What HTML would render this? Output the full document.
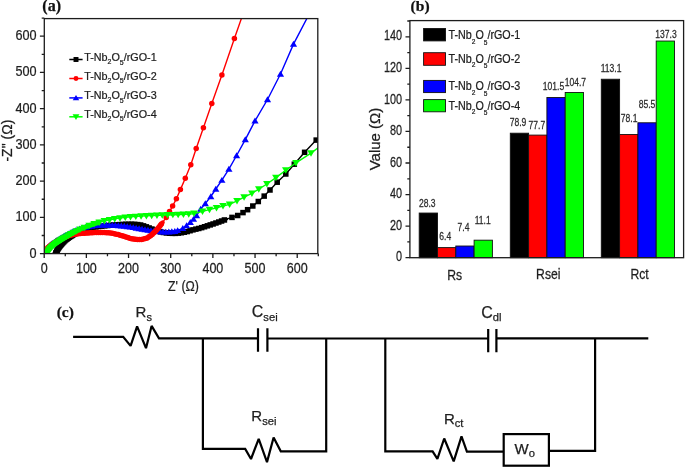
<!DOCTYPE html><html><head><meta charset="utf-8"><style>html,body{margin:0;padding:0;background:#fff;width:685px;height:468px;overflow:hidden;}svg{display:block;will-change:transform;}</style></head><body><svg width="685" height="468" viewBox="0 0 685 468">
<rect x="0" y="0" width="685" height="468" fill="#fff"/>
<g transform="translate(42.30,11.40) scale(1.000,1)"><text x="0" y="0" font-family="Liberation Serif" font-size="16" font-weight="bold" text-anchor="start" fill="#111" stroke="#111" stroke-width="0.25" >(a)</text></g>
<path d="M39.90,253.60H44.30M44.20,253.60V258.00M41.70,235.48H44.30M65.28,253.60V256.20M39.90,217.37H44.30M86.37,253.60V258.00M41.70,199.25H44.30M107.46,253.60V256.20M39.90,181.14H44.30M128.54,253.60V258.00M41.70,163.02H44.30M149.62,253.60V256.20M39.90,144.91H44.30M170.71,253.60V258.00M41.70,126.79H44.30M191.80,253.60V256.20M39.90,108.68H44.30M212.88,253.60V258.00M41.70,90.56H44.30M233.97,253.60V256.20M39.90,72.45H44.30M255.05,253.60V258.00M41.70,54.33H44.30M276.13,253.60V256.20M39.90,36.22H44.30M297.22,253.60V258.00M41.70,18.10H44.30M318.31,253.60V256.20" stroke="#1c1c1c" stroke-width="1.3" fill="none"/>
<g transform="translate(36.60,257.60) scale(0.880,1)"><text x="0" y="0" font-family="Liberation Sans" font-size="14.4" font-weight="normal" text-anchor="end" fill="#1e1e1e" stroke="#1e1e1e" stroke-width="0.25" >0</text></g>
<g transform="translate(44.20,272.50) scale(0.870,1)"><text x="0" y="0" font-family="Liberation Sans" font-size="14.4" font-weight="normal" text-anchor="middle" fill="#1e1e1e" stroke="#1e1e1e" stroke-width="0.25" >0</text></g>
<g transform="translate(36.60,221.37) scale(0.880,1)"><text x="0" y="0" font-family="Liberation Sans" font-size="14.4" font-weight="normal" text-anchor="end" fill="#1e1e1e" stroke="#1e1e1e" stroke-width="0.25" >100</text></g>
<g transform="translate(86.37,272.50) scale(0.870,1)"><text x="0" y="0" font-family="Liberation Sans" font-size="14.4" font-weight="normal" text-anchor="middle" fill="#1e1e1e" stroke="#1e1e1e" stroke-width="0.25" >100</text></g>
<g transform="translate(36.60,185.14) scale(0.880,1)"><text x="0" y="0" font-family="Liberation Sans" font-size="14.4" font-weight="normal" text-anchor="end" fill="#1e1e1e" stroke="#1e1e1e" stroke-width="0.25" >200</text></g>
<g transform="translate(128.54,272.50) scale(0.870,1)"><text x="0" y="0" font-family="Liberation Sans" font-size="14.4" font-weight="normal" text-anchor="middle" fill="#1e1e1e" stroke="#1e1e1e" stroke-width="0.25" >200</text></g>
<g transform="translate(36.60,148.91) scale(0.880,1)"><text x="0" y="0" font-family="Liberation Sans" font-size="14.4" font-weight="normal" text-anchor="end" fill="#1e1e1e" stroke="#1e1e1e" stroke-width="0.25" >300</text></g>
<g transform="translate(170.71,272.50) scale(0.870,1)"><text x="0" y="0" font-family="Liberation Sans" font-size="14.4" font-weight="normal" text-anchor="middle" fill="#1e1e1e" stroke="#1e1e1e" stroke-width="0.25" >300</text></g>
<g transform="translate(36.60,112.68) scale(0.880,1)"><text x="0" y="0" font-family="Liberation Sans" font-size="14.4" font-weight="normal" text-anchor="end" fill="#1e1e1e" stroke="#1e1e1e" stroke-width="0.25" >400</text></g>
<g transform="translate(212.88,272.50) scale(0.870,1)"><text x="0" y="0" font-family="Liberation Sans" font-size="14.4" font-weight="normal" text-anchor="middle" fill="#1e1e1e" stroke="#1e1e1e" stroke-width="0.25" >400</text></g>
<g transform="translate(36.60,76.45) scale(0.880,1)"><text x="0" y="0" font-family="Liberation Sans" font-size="14.4" font-weight="normal" text-anchor="end" fill="#1e1e1e" stroke="#1e1e1e" stroke-width="0.25" >500</text></g>
<g transform="translate(255.05,272.50) scale(0.870,1)"><text x="0" y="0" font-family="Liberation Sans" font-size="14.4" font-weight="normal" text-anchor="middle" fill="#1e1e1e" stroke="#1e1e1e" stroke-width="0.25" >500</text></g>
<g transform="translate(36.60,40.22) scale(0.880,1)"><text x="0" y="0" font-family="Liberation Sans" font-size="14.4" font-weight="normal" text-anchor="end" fill="#1e1e1e" stroke="#1e1e1e" stroke-width="0.25" >600</text></g>
<g transform="translate(297.22,272.50) scale(0.870,1)"><text x="0" y="0" font-family="Liberation Sans" font-size="14.4" font-weight="normal" text-anchor="middle" fill="#1e1e1e" stroke="#1e1e1e" stroke-width="0.25" >600</text></g>
<g transform="translate(183.50,291.00) scale(0.900,1)"><text x="0" y="0" font-family="Liberation Sans" font-size="13.8" font-weight="normal" text-anchor="middle" fill="#1e1e1e" stroke="#1e1e1e" stroke-width="0.25" >Z' (&#937;)</text></g>
<g transform="translate(11.8,140.6) rotate(-90)"><text x="0" y="0" font-family="Liberation Sans" font-size="14" text-anchor="middle" fill="#1e1e1e" stroke="#1e1e1e" stroke-width="0.25">-Z" (&#937;)</text></g>
<clipPath id="ca"><rect x="44.3" y="18.6" width="273.5" height="235.0"/></clipPath>
<g clip-path="url(#ca)">
<path d="M56.00,252.80L57.60,249.50L59.70,246.50L62.30,243.30L65.50,240.00L69.50,237.20L74.00,234.20L80.00,231.20L87.00,228.80L95.00,227.00L103.00,226.00L110.00,225.30L118.00,224.70L125.00,224.30L133.00,224.20L140.00,224.80L145.00,226.30L150.00,228.30L155.00,230.20L160.00,231.80L165.00,232.80L170.00,233.30L175.00,233.40L180.00,233.00L186.50,231.80L193.80,229.60L200.00,228.20L205.00,226.60L213.00,224.00L220.00,221.60L226.50,219.20L232.00,217.40L237.70,215.50L243.00,212.60L247.60,209.70L252.80,206.00L258.30,201.50L264.20,196.10L270.00,190.00L277.20,182.20L285.80,174.00L294.30,164.20L304.60,152.30L316.20,140.10L322.00,134.00" stroke="#000000" stroke-width="1.4" fill="none" stroke-linejoin="round"/>
<path d="M56.00,252.80L57.60,249.50L59.70,246.50L62.30,243.30L65.50,240.00L69.50,237.20L74.00,234.20L80.00,231.20L87.00,228.80L95.00,227.00L103.00,226.00L110.00,225.30L118.00,224.70L125.00,224.30L133.00,224.20L140.00,224.80L145.00,226.30L150.00,228.30L155.00,230.20L160.00,231.80L165.00,232.80L170.00,233.30L175.00,233.40L180.00,233.00L186.50,231.80L193.80,229.60L200.00,228.20L205.00,226.60L213.00,224.00L220.00,221.60L226.50,219.20" stroke="#000000" stroke-width="3.0" fill="none" stroke-linejoin="round" stroke-linecap="round"/>
<path d="M55.00,254.50L57.60,249.50L59.70,246.50L62.30,243.30L65.50,240.00L69.50,237.20L74.00,234.20L80.00,231.20L87.00,228.80" stroke="#000000" stroke-width="6.0" fill="none" stroke-linejoin="round" stroke-linecap="butt"/>
<rect x="53.25" y="250.05" width="5.50" height="5.50" fill="#000000"/>
<rect x="53.90" y="248.70" width="5.50" height="5.50" fill="#000000"/>
<rect x="54.56" y="247.35" width="5.50" height="5.50" fill="#000000"/>
<rect x="55.33" y="246.07" width="5.50" height="5.50" fill="#000000"/>
<rect x="56.19" y="244.84" width="5.50" height="5.50" fill="#000000"/>
<rect x="57.06" y="243.62" width="5.50" height="5.50" fill="#000000"/>
<rect x="58.00" y="242.45" width="5.50" height="5.50" fill="#000000"/>
<rect x="58.95" y="241.29" width="5.50" height="5.50" fill="#000000"/>
<rect x="59.93" y="240.16" width="5.50" height="5.50" fill="#000000"/>
<rect x="60.98" y="239.08" width="5.50" height="5.50" fill="#000000"/>
<rect x="62.02" y="238.00" width="5.50" height="5.50" fill="#000000"/>
<rect x="63.12" y="236.99" width="5.50" height="5.50" fill="#000000"/>
<rect x="64.35" y="236.13" width="5.50" height="5.50" fill="#000000"/>
<rect x="65.58" y="235.27" width="5.50" height="5.50" fill="#000000"/>
<rect x="66.81" y="234.41" width="5.50" height="5.50" fill="#000000"/>
<rect x="68.05" y="233.58" width="5.50" height="5.50" fill="#000000"/>
<rect x="69.30" y="232.75" width="5.50" height="5.50" fill="#000000"/>
<rect x="70.55" y="231.92" width="5.50" height="5.50" fill="#000000"/>
<rect x="71.84" y="231.15" width="5.50" height="5.50" fill="#000000"/>
<rect x="73.18" y="230.48" width="5.50" height="5.50" fill="#000000"/>
<rect x="74.52" y="229.81" width="5.50" height="5.50" fill="#000000"/>
<rect x="75.87" y="229.14" width="5.50" height="5.50" fill="#000000"/>
<rect x="77.21" y="228.47" width="5.50" height="5.50" fill="#000000"/>
<rect x="78.62" y="227.98" width="5.50" height="5.50" fill="#000000"/>
<rect x="80.04" y="227.49" width="5.50" height="5.50" fill="#000000"/>
<rect x="81.46" y="227.01" width="5.50" height="5.50" fill="#000000"/>
<rect x="82.88" y="226.52" width="5.50" height="5.50" fill="#000000"/>
<rect x="84.30" y="226.04" width="5.50" height="5.50" fill="#000000"/>
<rect x="87.23" y="225.38" width="5.50" height="5.50" fill="#000000"/>
<rect x="90.15" y="224.72" width="5.50" height="5.50" fill="#000000"/>
<rect x="93.10" y="224.14" width="5.50" height="5.50" fill="#000000"/>
<rect x="96.07" y="223.77" width="5.50" height="5.50" fill="#000000"/>
<rect x="99.05" y="223.40" width="5.50" height="5.50" fill="#000000"/>
<rect x="102.03" y="223.07" width="5.50" height="5.50" fill="#000000"/>
<rect x="105.02" y="222.77" width="5.50" height="5.50" fill="#000000"/>
<rect x="108.00" y="222.49" width="5.50" height="5.50" fill="#000000"/>
<rect x="110.99" y="222.27" width="5.50" height="5.50" fill="#000000"/>
<rect x="113.99" y="222.04" width="5.50" height="5.50" fill="#000000"/>
<rect x="116.98" y="221.85" width="5.50" height="5.50" fill="#000000"/>
<rect x="119.97" y="221.68" width="5.50" height="5.50" fill="#000000"/>
<rect x="122.97" y="221.54" width="5.50" height="5.50" fill="#000000"/>
<rect x="125.97" y="221.50" width="5.50" height="5.50" fill="#000000"/>
<rect x="128.97" y="221.47" width="5.50" height="5.50" fill="#000000"/>
<rect x="131.96" y="221.60" width="5.50" height="5.50" fill="#000000"/>
<rect x="134.95" y="221.85" width="5.50" height="5.50" fill="#000000"/>
<rect x="137.91" y="222.25" width="5.50" height="5.50" fill="#000000"/>
<rect x="140.79" y="223.11" width="5.50" height="5.50" fill="#000000"/>
<rect x="143.62" y="224.10" width="5.50" height="5.50" fill="#000000"/>
<rect x="146.40" y="225.21" width="5.50" height="5.50" fill="#000000"/>
<rect x="149.20" y="226.29" width="5.50" height="5.50" fill="#000000"/>
<rect x="152.01" y="227.36" width="5.50" height="5.50" fill="#000000"/>
<rect x="154.86" y="228.29" width="5.50" height="5.50" fill="#000000"/>
<rect x="157.73" y="229.15" width="5.50" height="5.50" fill="#000000"/>
<rect x="160.67" y="229.73" width="5.50" height="5.50" fill="#000000"/>
<rect x="163.63" y="230.19" width="5.50" height="5.50" fill="#000000"/>
<rect x="166.62" y="230.49" width="5.50" height="5.50" fill="#000000"/>
<rect x="169.62" y="230.60" width="5.50" height="5.50" fill="#000000"/>
<rect x="172.61" y="230.62" width="5.50" height="5.50" fill="#000000"/>
<rect x="175.60" y="230.38" width="5.50" height="5.50" fill="#000000"/>
<rect x="178.58" y="230.01" width="5.50" height="5.50" fill="#000000"/>
<rect x="181.53" y="229.46" width="5.50" height="5.50" fill="#000000"/>
<rect x="184.46" y="228.84" width="5.50" height="5.50" fill="#000000"/>
<rect x="187.33" y="227.97" width="5.50" height="5.50" fill="#000000"/>
<rect x="190.20" y="227.11" width="5.50" height="5.50" fill="#000000"/>
<rect x="193.11" y="226.38" width="5.50" height="5.50" fill="#000000"/>
<rect x="196.04" y="225.72" width="5.50" height="5.50" fill="#000000"/>
<rect x="198.93" y="224.91" width="5.50" height="5.50" fill="#000000"/>
<rect x="201.78" y="224.00" width="5.50" height="5.50" fill="#000000"/>
<rect x="204.64" y="223.07" width="5.50" height="5.50" fill="#000000"/>
<rect x="207.49" y="222.15" width="5.50" height="5.50" fill="#000000"/>
<rect x="210.34" y="221.22" width="5.50" height="5.50" fill="#000000"/>
<rect x="213.18" y="220.25" width="5.50" height="5.50" fill="#000000"/>
<rect x="216.02" y="219.27" width="5.50" height="5.50" fill="#000000"/>
<rect x="218.84" y="218.26" width="5.50" height="5.50" fill="#000000"/>
<rect x="221.66" y="217.22" width="5.50" height="5.50" fill="#000000"/>
<rect x="229.25" y="214.65" width="5.50" height="5.50" fill="#000000"/>
<rect x="234.95" y="212.75" width="5.50" height="5.50" fill="#000000"/>
<rect x="240.25" y="209.85" width="5.50" height="5.50" fill="#000000"/>
<rect x="244.85" y="206.95" width="5.50" height="5.50" fill="#000000"/>
<rect x="250.05" y="203.25" width="5.50" height="5.50" fill="#000000"/>
<rect x="255.55" y="198.75" width="5.50" height="5.50" fill="#000000"/>
<rect x="261.45" y="193.35" width="5.50" height="5.50" fill="#000000"/>
<rect x="267.25" y="187.25" width="5.50" height="5.50" fill="#000000"/>
<rect x="274.45" y="179.45" width="5.50" height="5.50" fill="#000000"/>
<rect x="283.05" y="171.25" width="5.50" height="5.50" fill="#000000"/>
<rect x="291.55" y="161.45" width="5.50" height="5.50" fill="#000000"/>
<rect x="301.85" y="149.55" width="5.50" height="5.50" fill="#000000"/>
<rect x="313.45" y="137.35" width="5.50" height="5.50" fill="#000000"/>
<path d="M44.60,252.80L46.00,249.60L48.50,246.60L52.00,243.60L56.00,240.90L61.00,237.90L67.00,234.70L73.00,231.70L80.00,228.80L87.00,226.80L94.00,225.70L100.00,225.10L108.00,225.00L117.00,225.40L125.00,226.20L132.00,227.20L140.00,228.80L150.00,230.40L158.00,231.60L165.00,232.00L170.00,231.80L175.50,231.20L179.00,230.00L182.80,228.30L186.60,225.60L190.30,222.30L193.50,219.20L196.60,215.60L200.70,209.00L205.30,203.60L210.80,196.50L215.80,189.00L221.90,180.20L228.90,169.10L236.60,155.50L245.30,139.60L255.00,120.90L267.50,99.50L280.50,74.00L293.50,44.10L310.00,12.50" stroke="#0000ff" stroke-width="1.4" fill="none" stroke-linejoin="round"/>
<path d="M44.60,252.80L46.00,249.60L48.50,246.60L52.00,243.60L56.00,240.90L61.00,237.90L67.00,234.70L73.00,231.70L80.00,228.80L87.00,226.80L94.00,225.70L100.00,225.10L108.00,225.00L117.00,225.40L125.00,226.20L132.00,227.20L140.00,228.80L150.00,230.40L158.00,231.60L165.00,232.00L170.00,231.80L175.50,231.20L179.00,230.00" stroke="#0000ff" stroke-width="2.0" fill="none" stroke-linejoin="round" stroke-linecap="round"/>
<path d="M44.60,249.50L48.20,255.44L41.00,255.44Z" fill="#0000ff"/>
<path d="M45.20,248.13L48.80,254.07L41.60,254.07Z" fill="#0000ff"/>
<path d="M45.80,246.75L49.40,252.69L42.20,252.69Z" fill="#0000ff"/>
<path d="M46.64,245.53L50.24,251.47L43.04,251.47Z" fill="#0000ff"/>
<path d="M47.61,244.37L51.21,250.31L44.01,250.31Z" fill="#0000ff"/>
<path d="M48.58,243.23L52.18,249.17L44.98,249.17Z" fill="#0000ff"/>
<path d="M49.72,242.26L53.32,248.20L46.12,248.20Z" fill="#0000ff"/>
<path d="M50.86,241.28L54.46,247.22L47.26,247.22Z" fill="#0000ff"/>
<path d="M51.99,240.31L55.59,246.25L48.39,246.25Z" fill="#0000ff"/>
<path d="M53.24,239.47L56.84,245.41L49.64,245.41Z" fill="#0000ff"/>
<path d="M54.48,238.63L58.08,244.57L50.88,244.57Z" fill="#0000ff"/>
<path d="M55.72,237.79L59.32,243.73L52.12,243.73Z" fill="#0000ff"/>
<path d="M57.00,237.00L60.60,242.94L53.40,242.94Z" fill="#0000ff"/>
<path d="M58.29,236.23L61.89,242.17L54.69,242.17Z" fill="#0000ff"/>
<path d="M59.57,235.46L63.17,241.40L55.97,241.40Z" fill="#0000ff"/>
<path d="M60.86,234.68L64.46,240.62L57.26,240.62Z" fill="#0000ff"/>
<path d="M62.18,233.97L65.78,239.91L58.58,239.91Z" fill="#0000ff"/>
<path d="M63.50,233.27L67.10,239.21L59.90,239.21Z" fill="#0000ff"/>
<path d="M64.83,232.56L68.43,238.50L61.23,238.50Z" fill="#0000ff"/>
<path d="M66.15,231.85L69.75,237.79L62.55,237.79Z" fill="#0000ff"/>
<path d="M67.48,231.16L71.08,237.10L63.88,237.10Z" fill="#0000ff"/>
<path d="M68.82,230.49L72.42,236.43L65.22,236.43Z" fill="#0000ff"/>
<path d="M70.16,229.82L73.76,235.76L66.56,235.76Z" fill="#0000ff"/>
<path d="M71.50,229.15L75.10,235.09L67.90,235.09Z" fill="#0000ff"/>
<path d="M72.85,228.48L76.45,234.42L69.25,234.42Z" fill="#0000ff"/>
<path d="M74.23,227.89L77.83,233.83L70.63,233.83Z" fill="#0000ff"/>
<path d="M75.61,227.32L79.21,233.26L72.01,233.26Z" fill="#0000ff"/>
<path d="M77.00,226.74L80.60,232.68L73.40,232.68Z" fill="#0000ff"/>
<path d="M79.77,225.60L83.37,231.54L76.17,231.54Z" fill="#0000ff"/>
<path d="M82.64,224.74L86.24,230.68L79.04,230.68Z" fill="#0000ff"/>
<path d="M85.53,223.92L89.13,229.86L81.93,229.86Z" fill="#0000ff"/>
<path d="M88.45,223.27L92.05,229.21L84.85,229.21Z" fill="#0000ff"/>
<path d="M91.42,222.81L95.02,228.75L87.82,228.75Z" fill="#0000ff"/>
<path d="M94.38,222.36L97.98,228.30L90.78,228.30Z" fill="#0000ff"/>
<path d="M97.37,222.06L100.97,228.00L93.77,228.00Z" fill="#0000ff"/>
<path d="M100.35,221.80L103.95,227.74L96.75,227.74Z" fill="#0000ff"/>
<path d="M103.35,221.76L106.95,227.70L99.75,227.70Z" fill="#0000ff"/>
<path d="M106.35,221.72L109.95,227.66L102.75,227.66Z" fill="#0000ff"/>
<path d="M109.35,221.76L112.95,227.70L105.75,227.70Z" fill="#0000ff"/>
<path d="M112.35,221.89L115.95,227.83L108.75,227.83Z" fill="#0000ff"/>
<path d="M115.35,222.03L118.95,227.97L111.75,227.97Z" fill="#0000ff"/>
<path d="M118.34,222.23L121.94,228.17L114.74,228.17Z" fill="#0000ff"/>
<path d="M121.32,222.53L124.92,228.47L117.72,228.47Z" fill="#0000ff"/>
<path d="M124.31,222.83L127.91,228.77L120.71,228.77Z" fill="#0000ff"/>
<path d="M127.28,223.23L130.88,229.17L123.68,229.17Z" fill="#0000ff"/>
<path d="M130.25,223.65L133.85,229.59L126.65,229.59Z" fill="#0000ff"/>
<path d="M133.21,224.14L136.81,230.08L129.61,230.08Z" fill="#0000ff"/>
<path d="M136.15,224.73L139.75,230.67L132.55,230.67Z" fill="#0000ff"/>
<path d="M139.09,225.32L142.69,231.26L135.49,231.26Z" fill="#0000ff"/>
<path d="M142.05,225.83L145.65,231.77L138.45,231.77Z" fill="#0000ff"/>
<path d="M145.01,226.30L148.61,232.24L141.41,232.24Z" fill="#0000ff"/>
<path d="M147.97,226.78L151.57,232.72L144.37,232.72Z" fill="#0000ff"/>
<path d="M150.94,227.24L154.54,233.18L147.34,233.18Z" fill="#0000ff"/>
<path d="M153.90,227.69L157.50,233.63L150.30,233.63Z" fill="#0000ff"/>
<path d="M156.87,228.13L160.47,234.07L153.27,234.07Z" fill="#0000ff"/>
<path d="M159.86,228.41L163.46,234.35L156.26,234.35Z" fill="#0000ff"/>
<path d="M162.85,228.58L166.45,234.52L159.25,234.52Z" fill="#0000ff"/>
<path d="M165.85,228.67L169.45,234.61L162.25,234.61Z" fill="#0000ff"/>
<path d="M168.84,228.55L172.44,234.49L165.24,234.49Z" fill="#0000ff"/>
<path d="M171.83,228.30L175.43,234.24L168.23,234.24Z" fill="#0000ff"/>
<path d="M174.81,227.97L178.41,233.91L171.21,233.91Z" fill="#0000ff"/>
<path d="M177.69,227.15L181.29,233.09L174.09,233.09Z" fill="#0000ff"/>
<path d="M182.80,225.00L186.40,230.94L179.20,230.94Z" fill="#0000ff"/>
<path d="M186.60,222.30L190.20,228.24L183.00,228.24Z" fill="#0000ff"/>
<path d="M190.30,219.00L193.90,224.94L186.70,224.94Z" fill="#0000ff"/>
<path d="M193.50,215.90L197.10,221.84L189.90,221.84Z" fill="#0000ff"/>
<path d="M196.60,212.30L200.20,218.24L193.00,218.24Z" fill="#0000ff"/>
<path d="M200.70,205.70L204.30,211.64L197.10,211.64Z" fill="#0000ff"/>
<path d="M205.30,200.30L208.90,206.24L201.70,206.24Z" fill="#0000ff"/>
<path d="M210.80,193.20L214.40,199.14L207.20,199.14Z" fill="#0000ff"/>
<path d="M215.80,185.70L219.40,191.64L212.20,191.64Z" fill="#0000ff"/>
<path d="M221.90,176.90L225.50,182.84L218.30,182.84Z" fill="#0000ff"/>
<path d="M228.90,165.80L232.50,171.74L225.30,171.74Z" fill="#0000ff"/>
<path d="M236.60,152.20L240.20,158.14L233.00,158.14Z" fill="#0000ff"/>
<path d="M245.30,136.30L248.90,142.24L241.70,142.24Z" fill="#0000ff"/>
<path d="M255.00,117.60L258.60,123.54L251.40,123.54Z" fill="#0000ff"/>
<path d="M267.50,96.20L271.10,102.14L263.90,102.14Z" fill="#0000ff"/>
<path d="M280.50,70.70L284.10,76.64L276.90,76.64Z" fill="#0000ff"/>
<path d="M293.50,40.80L297.10,46.74L289.90,46.74Z" fill="#0000ff"/>
<path d="M44.80,252.60L45.20,251.50L47.00,248.40L50.00,245.80L54.00,243.00L58.00,240.60L63.00,238.00L68.00,236.00L74.00,234.40L81.00,233.40L90.00,232.80L100.00,232.40L110.00,232.80L118.00,234.50L125.00,236.60L131.00,238.60L137.00,239.60L142.00,239.50L147.00,238.10L152.00,234.60L156.00,230.60L159.60,226.40L162.60,222.40L166.20,217.40L169.50,211.60L172.60,206.00L176.40,198.80L180.40,189.60L185.30,178.20L190.80,164.80L196.20,148.50L203.40,127.80L211.80,103.50L221.90,75.10L234.40,38.60L244.00,11.00" stroke="#ff0000" stroke-width="1.4" fill="none" stroke-linejoin="round"/>
<path d="M44.80,252.60L45.20,251.50L47.00,248.40L50.00,245.80L54.00,243.00L58.00,240.60L63.00,238.00L68.00,236.00L74.00,234.40L81.00,233.40L90.00,232.80L100.00,232.40L110.00,232.80L118.00,234.50L125.00,236.60L131.00,238.60L137.00,239.60L142.00,239.50L147.00,238.10L152.00,234.60L156.00,230.60L159.60,226.40L162.60,222.40" stroke="#ff0000" stroke-width="4.2" fill="none" stroke-linejoin="round" stroke-linecap="round"/>
<circle cx="44.80" cy="252.60" r="2.75" fill="#ff0000"/>
<circle cx="45.62" cy="250.78" r="2.75" fill="#ff0000"/>
<circle cx="46.62" cy="249.05" r="2.75" fill="#ff0000"/>
<circle cx="47.94" cy="247.58" r="2.75" fill="#ff0000"/>
<circle cx="49.45" cy="246.27" r="2.75" fill="#ff0000"/>
<circle cx="51.04" cy="245.07" r="2.75" fill="#ff0000"/>
<circle cx="52.68" cy="243.92" r="2.75" fill="#ff0000"/>
<circle cx="54.34" cy="242.80" r="2.75" fill="#ff0000"/>
<circle cx="56.05" cy="241.77" r="2.75" fill="#ff0000"/>
<circle cx="57.77" cy="240.74" r="2.75" fill="#ff0000"/>
<circle cx="59.53" cy="239.80" r="2.75" fill="#ff0000"/>
<circle cx="61.31" cy="238.88" r="2.75" fill="#ff0000"/>
<circle cx="63.09" cy="237.97" r="2.75" fill="#ff0000"/>
<circle cx="64.94" cy="237.22" r="2.75" fill="#ff0000"/>
<circle cx="66.80" cy="236.48" r="2.75" fill="#ff0000"/>
<circle cx="68.68" cy="235.82" r="2.75" fill="#ff0000"/>
<circle cx="70.62" cy="235.30" r="2.75" fill="#ff0000"/>
<circle cx="72.55" cy="234.79" r="2.75" fill="#ff0000"/>
<circle cx="74.49" cy="234.33" r="2.75" fill="#ff0000"/>
<circle cx="76.47" cy="234.05" r="2.75" fill="#ff0000"/>
<circle cx="78.45" cy="233.76" r="2.75" fill="#ff0000"/>
<circle cx="80.43" cy="233.48" r="2.75" fill="#ff0000"/>
<circle cx="82.42" cy="233.31" r="2.75" fill="#ff0000"/>
<circle cx="84.42" cy="233.17" r="2.75" fill="#ff0000"/>
<circle cx="86.41" cy="233.04" r="2.75" fill="#ff0000"/>
<circle cx="88.41" cy="232.91" r="2.75" fill="#ff0000"/>
<circle cx="90.41" cy="232.78" r="2.75" fill="#ff0000"/>
<circle cx="92.40" cy="232.70" r="2.75" fill="#ff0000"/>
<circle cx="94.40" cy="232.62" r="2.75" fill="#ff0000"/>
<circle cx="96.40" cy="232.54" r="2.75" fill="#ff0000"/>
<circle cx="98.40" cy="232.46" r="2.75" fill="#ff0000"/>
<circle cx="100.40" cy="232.42" r="2.75" fill="#ff0000"/>
<circle cx="102.40" cy="232.50" r="2.75" fill="#ff0000"/>
<circle cx="104.39" cy="232.58" r="2.75" fill="#ff0000"/>
<circle cx="106.39" cy="232.66" r="2.75" fill="#ff0000"/>
<circle cx="108.39" cy="232.74" r="2.75" fill="#ff0000"/>
<circle cx="110.38" cy="232.88" r="2.75" fill="#ff0000"/>
<circle cx="112.34" cy="233.30" r="2.75" fill="#ff0000"/>
<circle cx="114.29" cy="233.71" r="2.75" fill="#ff0000"/>
<circle cx="116.25" cy="234.13" r="2.75" fill="#ff0000"/>
<circle cx="118.20" cy="234.56" r="2.75" fill="#ff0000"/>
<circle cx="120.12" cy="235.14" r="2.75" fill="#ff0000"/>
<circle cx="122.03" cy="235.71" r="2.75" fill="#ff0000"/>
<circle cx="123.95" cy="236.28" r="2.75" fill="#ff0000"/>
<circle cx="125.86" cy="236.89" r="2.75" fill="#ff0000"/>
<circle cx="127.75" cy="237.52" r="2.75" fill="#ff0000"/>
<circle cx="129.65" cy="238.15" r="2.75" fill="#ff0000"/>
<circle cx="131.57" cy="238.70" r="2.75" fill="#ff0000"/>
<circle cx="133.54" cy="239.02" r="2.75" fill="#ff0000"/>
<circle cx="135.52" cy="239.35" r="2.75" fill="#ff0000"/>
<circle cx="137.50" cy="239.59" r="2.75" fill="#ff0000"/>
<circle cx="139.50" cy="239.55" r="2.75" fill="#ff0000"/>
<circle cx="141.50" cy="239.51" r="2.75" fill="#ff0000"/>
<circle cx="143.44" cy="239.10" r="2.75" fill="#ff0000"/>
<circle cx="145.37" cy="238.56" r="2.75" fill="#ff0000"/>
<circle cx="147.25" cy="237.93" r="2.75" fill="#ff0000"/>
<circle cx="148.89" cy="236.78" r="2.75" fill="#ff0000"/>
<circle cx="150.52" cy="235.63" r="2.75" fill="#ff0000"/>
<circle cx="152.14" cy="234.46" r="2.75" fill="#ff0000"/>
<circle cx="153.56" cy="233.04" r="2.75" fill="#ff0000"/>
<circle cx="154.97" cy="231.63" r="2.75" fill="#ff0000"/>
<circle cx="156.35" cy="230.19" r="2.75" fill="#ff0000"/>
<circle cx="157.65" cy="228.67" r="2.75" fill="#ff0000"/>
<circle cx="158.96" cy="227.15" r="2.75" fill="#ff0000"/>
<circle cx="160.21" cy="225.59" r="2.75" fill="#ff0000"/>
<circle cx="161.41" cy="223.99" r="2.75" fill="#ff0000"/>
<circle cx="166.20" cy="217.40" r="2.75" fill="#ff0000"/>
<circle cx="169.50" cy="211.60" r="2.75" fill="#ff0000"/>
<circle cx="172.60" cy="206.00" r="2.75" fill="#ff0000"/>
<circle cx="176.40" cy="198.80" r="2.75" fill="#ff0000"/>
<circle cx="180.40" cy="189.60" r="2.75" fill="#ff0000"/>
<circle cx="185.30" cy="178.20" r="2.75" fill="#ff0000"/>
<circle cx="190.80" cy="164.80" r="2.75" fill="#ff0000"/>
<circle cx="196.20" cy="148.50" r="2.75" fill="#ff0000"/>
<circle cx="203.40" cy="127.80" r="2.75" fill="#ff0000"/>
<circle cx="211.80" cy="103.50" r="2.75" fill="#ff0000"/>
<circle cx="221.90" cy="75.10" r="2.75" fill="#ff0000"/>
<circle cx="234.40" cy="38.60" r="2.75" fill="#ff0000"/>
<path d="M47.30,252.80L48.60,250.30L50.80,247.60L53.60,245.00L56.60,242.80L60.00,240.50L64.00,238.00L68.00,235.60L72.00,233.30L76.00,231.20L80.00,229.30L85.00,227.30L90.00,225.30L95.00,223.50L100.00,222.10L105.00,220.80L110.00,219.70L117.00,218.40L130.00,216.90L145.00,215.90L160.00,215.20L175.00,214.70L190.00,214.10L196.00,213.20L202.50,211.40L209.50,209.60L216.50,207.80L223.00,206.00L229.60,204.40L237.00,200.90L244.10,197.10L251.90,193.30L258.80,189.10L266.90,184.00L275.90,177.60L285.80,170.20L296.00,162.80L311.00,153.10L322.00,145.00" stroke="#00ff00" stroke-width="1.4" fill="none" stroke-linejoin="round"/>
<path d="M47.30,252.80L48.60,250.30L50.80,247.60L53.60,245.00L56.60,242.80L60.00,240.50L64.00,238.00L68.00,235.60L72.00,233.30L76.00,231.20" stroke="#00ff00" stroke-width="5.0" fill="none" stroke-linejoin="round" stroke-linecap="round"/>
<path d="M56.60,242.80L60.00,240.50L64.00,238.00L68.00,235.60L72.00,233.30L76.00,231.20L80.00,229.30L85.00,227.30L90.00,225.30L95.00,223.50L100.00,222.10" stroke="#00ff00" stroke-width="5.0" fill="none" stroke-linejoin="round" stroke-linecap="butt"/>
<path d="M47.30,256.40L51.10,249.92L43.50,249.92Z" fill="#00ff00"/>
<path d="M47.99,255.07L51.79,248.59L44.19,248.59Z" fill="#00ff00"/>
<path d="M48.72,253.76L52.52,247.28L44.92,247.28Z" fill="#00ff00"/>
<path d="M49.66,252.60L53.46,246.12L45.86,246.12Z" fill="#00ff00"/>
<path d="M50.61,251.43L54.41,244.95L46.81,244.95Z" fill="#00ff00"/>
<path d="M51.68,250.38L55.48,243.90L47.88,243.90Z" fill="#00ff00"/>
<path d="M52.78,249.36L56.58,242.88L48.98,242.88Z" fill="#00ff00"/>
<path d="M53.91,248.38L57.71,241.90L50.11,241.90Z" fill="#00ff00"/>
<path d="M55.11,247.49L58.91,241.01L51.31,241.01Z" fill="#00ff00"/>
<path d="M56.32,246.60L60.12,240.12L52.52,240.12Z" fill="#00ff00"/>
<path d="M57.56,245.75L61.36,239.27L53.76,239.27Z" fill="#00ff00"/>
<path d="M58.80,244.91L62.60,238.43L55.00,238.43Z" fill="#00ff00"/>
<path d="M60.05,244.07L63.85,237.59L56.25,237.59Z" fill="#00ff00"/>
<path d="M61.32,243.28L65.12,236.80L57.52,236.80Z" fill="#00ff00"/>
<path d="M62.59,242.48L66.39,236.00L58.79,236.00Z" fill="#00ff00"/>
<path d="M63.86,241.69L67.66,235.21L60.06,235.21Z" fill="#00ff00"/>
<path d="M65.22,240.87L69.02,234.39L61.42,234.39Z" fill="#00ff00"/>
<path d="M66.80,239.92L70.60,233.44L63.00,233.44Z" fill="#00ff00"/>
<path d="M68.65,238.83L72.45,232.35L64.85,232.35Z" fill="#00ff00"/>
<path d="M70.82,237.58L74.62,231.10L67.02,231.10Z" fill="#00ff00"/>
<path d="M73.38,236.18L77.18,229.70L69.58,229.70Z" fill="#00ff00"/>
<path d="M76.39,234.61L80.19,228.13L72.59,228.13Z" fill="#00ff00"/>
<path d="M79.97,232.91L83.77,226.43L76.17,226.43Z" fill="#00ff00"/>
<path d="M84.26,231.20L88.06,224.72L80.46,224.72Z" fill="#00ff00"/>
<path d="M89.18,229.23L92.98,222.75L85.38,222.75Z" fill="#00ff00"/>
<path d="M94.15,227.40L97.95,220.92L90.35,220.92Z" fill="#00ff00"/>
<path d="M99.24,225.91L103.04,219.43L95.44,219.43Z" fill="#00ff00"/>
<path d="M104.36,224.57L108.16,218.09L100.56,218.09Z" fill="#00ff00"/>
<path d="M109.53,223.40L113.33,216.92L105.73,216.92Z" fill="#00ff00"/>
<path d="M114.74,222.42L118.54,215.94L110.94,215.94Z" fill="#00ff00"/>
<path d="M119.98,221.66L123.78,215.18L116.18,215.18Z" fill="#00ff00"/>
<path d="M125.25,221.05L129.05,214.57L121.45,214.57Z" fill="#00ff00"/>
<path d="M130.51,220.47L134.31,213.99L126.71,213.99Z" fill="#00ff00"/>
<path d="M135.80,220.11L139.60,213.63L132.00,213.63Z" fill="#00ff00"/>
<path d="M141.09,219.76L144.89,213.28L137.29,213.28Z" fill="#00ff00"/>
<path d="M146.38,219.44L150.18,212.96L142.58,212.96Z" fill="#00ff00"/>
<path d="M151.68,219.19L155.48,212.71L147.88,212.71Z" fill="#00ff00"/>
<path d="M156.97,218.94L160.77,212.46L153.17,212.46Z" fill="#00ff00"/>
<path d="M162.26,218.72L166.06,212.24L158.46,212.24Z" fill="#00ff00"/>
<path d="M167.56,218.55L171.36,212.07L163.76,212.07Z" fill="#00ff00"/>
<path d="M172.86,218.37L176.66,211.89L169.06,211.89Z" fill="#00ff00"/>
<path d="M178.16,218.17L181.96,211.69L174.36,211.69Z" fill="#00ff00"/>
<path d="M183.45,217.96L187.25,211.48L179.65,211.48Z" fill="#00ff00"/>
<path d="M188.75,217.75L192.55,211.27L184.95,211.27Z" fill="#00ff00"/>
<path d="M194.00,217.10L197.80,210.62L190.20,210.62Z" fill="#00ff00"/>
<path d="M202.50,215.00L206.30,208.52L198.70,208.52Z" fill="#00ff00"/>
<path d="M209.50,213.20L213.30,206.72L205.70,206.72Z" fill="#00ff00"/>
<path d="M216.50,211.40L220.30,204.92L212.70,204.92Z" fill="#00ff00"/>
<path d="M223.00,209.60L226.80,203.12L219.20,203.12Z" fill="#00ff00"/>
<path d="M229.60,208.00L233.40,201.52L225.80,201.52Z" fill="#00ff00"/>
<path d="M237.00,204.50L240.80,198.02L233.20,198.02Z" fill="#00ff00"/>
<path d="M244.10,200.70L247.90,194.22L240.30,194.22Z" fill="#00ff00"/>
<path d="M251.90,196.90L255.70,190.42L248.10,190.42Z" fill="#00ff00"/>
<path d="M258.80,192.70L262.60,186.22L255.00,186.22Z" fill="#00ff00"/>
<path d="M266.90,187.60L270.70,181.12L263.10,181.12Z" fill="#00ff00"/>
<path d="M275.90,181.20L279.70,174.72L272.10,174.72Z" fill="#00ff00"/>
<path d="M285.80,173.80L289.60,167.32L282.00,167.32Z" fill="#00ff00"/>
<path d="M296.00,166.40L299.80,159.92L292.20,159.92Z" fill="#00ff00"/>
<path d="M311.00,156.70L314.80,150.22L307.20,150.22Z" fill="#00ff00"/>
</g>
<rect x="44.3" y="18.6" width="273.50" height="235.00" stroke="#1c1c1c" stroke-width="1.3" fill="none"/>
<path d="M69.3,59.5H82.6" stroke="#000000" stroke-width="1.5"/>
<rect x="73.53" y="57.02" width="4.95" height="4.95" fill="#000000"/>
<g transform="translate(84.20,61.10) scale(0.930,1)"><text x="0" y="0" font-family="Liberation Sans" font-size="11.6" font-weight="normal" text-anchor="start" fill="#1e1e1e" stroke="#1e1e1e" stroke-width="0.25" >T-Nb<tspan font-size="7.5" dy="2.6">2</tspan><tspan dy="-2.6">O</tspan><tspan font-size="7.5" dy="3.4">5</tspan><tspan dy="-3.4">/rGO-1</tspan></text></g>
<path d="M69.3,78.5H82.6" stroke="#ff0000" stroke-width="1.5"/>
<circle cx="76.00" cy="78.50" r="2.48" fill="#ff0000"/>
<g transform="translate(84.20,79.90) scale(0.930,1)"><text x="0" y="0" font-family="Liberation Sans" font-size="11.6" font-weight="normal" text-anchor="start" fill="#1e1e1e" stroke="#1e1e1e" stroke-width="0.25" >T-Nb<tspan font-size="7.5" dy="2.6">2</tspan><tspan dy="-2.6">O</tspan><tspan font-size="7.5" dy="3.4">5</tspan><tspan dy="-3.4">/rGO-2</tspan></text></g>
<path d="M69.3,97.89999999999999H82.6" stroke="#0000ff" stroke-width="1.5"/>
<path d="M76.00,94.93L79.24,100.28L72.76,100.28Z" fill="#0000ff"/>
<g transform="translate(84.20,99.10) scale(0.930,1)"><text x="0" y="0" font-family="Liberation Sans" font-size="11.6" font-weight="normal" text-anchor="start" fill="#1e1e1e" stroke="#1e1e1e" stroke-width="0.25" >T-Nb<tspan font-size="7.5" dy="2.6">2</tspan><tspan dy="-2.6">O</tspan><tspan font-size="7.5" dy="3.4">5</tspan><tspan dy="-3.4">/rGO-3</tspan></text></g>
<path d="M69.3,116.8H82.6" stroke="#00ff00" stroke-width="1.5"/>
<path d="M76.00,120.04L79.42,114.21L72.58,114.21Z" fill="#00ff00"/>
<g transform="translate(84.20,117.90) scale(0.930,1)"><text x="0" y="0" font-family="Liberation Sans" font-size="11.6" font-weight="normal" text-anchor="start" fill="#1e1e1e" stroke="#1e1e1e" stroke-width="0.25" >T-Nb<tspan font-size="7.5" dy="2.6">2</tspan><tspan dy="-2.6">O</tspan><tspan font-size="7.5" dy="3.4">5</tspan><tspan dy="-3.4">/rGO-4</tspan></text></g>
<g transform="translate(410.60,11.40) scale(1.000,1)"><text x="0" y="0" font-family="Liberation Serif" font-size="15.5" font-weight="bold" text-anchor="start" fill="#111" stroke="#111" stroke-width="0.25" >(b)</text></g>
<path d="M405.50,257.70H409.90M407.30,241.92H409.90M405.50,226.14H409.90M407.30,210.36H409.90M405.50,194.58H409.90M407.30,178.80H409.90M405.50,163.02H409.90M407.30,147.24H409.90M405.50,131.46H409.90M407.30,115.68H409.90M405.50,99.90H409.90M407.30,84.12H409.90M405.50,68.34H409.90M407.30,52.56H409.90M405.50,36.78H409.90M407.30,21.00H409.90" stroke="#1c1c1c" stroke-width="1.3" fill="none"/>
<g transform="translate(402.00,261.30) scale(0.760,1)"><text x="0" y="0" font-family="Liberation Sans" font-size="14.3" font-weight="normal" text-anchor="end" fill="#1e1e1e" stroke="#1e1e1e" stroke-width="0.25" >0</text></g>
<g transform="translate(402.00,229.74) scale(0.760,1)"><text x="0" y="0" font-family="Liberation Sans" font-size="14.3" font-weight="normal" text-anchor="end" fill="#1e1e1e" stroke="#1e1e1e" stroke-width="0.25" >20</text></g>
<g transform="translate(402.00,198.18) scale(0.760,1)"><text x="0" y="0" font-family="Liberation Sans" font-size="14.3" font-weight="normal" text-anchor="end" fill="#1e1e1e" stroke="#1e1e1e" stroke-width="0.25" >40</text></g>
<g transform="translate(402.00,166.62) scale(0.760,1)"><text x="0" y="0" font-family="Liberation Sans" font-size="14.3" font-weight="normal" text-anchor="end" fill="#1e1e1e" stroke="#1e1e1e" stroke-width="0.25" >60</text></g>
<g transform="translate(402.00,135.06) scale(0.760,1)"><text x="0" y="0" font-family="Liberation Sans" font-size="14.3" font-weight="normal" text-anchor="end" fill="#1e1e1e" stroke="#1e1e1e" stroke-width="0.25" >80</text></g>
<g transform="translate(402.00,103.50) scale(0.760,1)"><text x="0" y="0" font-family="Liberation Sans" font-size="14.3" font-weight="normal" text-anchor="end" fill="#1e1e1e" stroke="#1e1e1e" stroke-width="0.25" >100</text></g>
<g transform="translate(402.00,71.94) scale(0.760,1)"><text x="0" y="0" font-family="Liberation Sans" font-size="14.3" font-weight="normal" text-anchor="end" fill="#1e1e1e" stroke="#1e1e1e" stroke-width="0.25" >120</text></g>
<g transform="translate(402.00,40.38) scale(0.760,1)"><text x="0" y="0" font-family="Liberation Sans" font-size="14.3" font-weight="normal" text-anchor="end" fill="#1e1e1e" stroke="#1e1e1e" stroke-width="0.25" >140</text></g>
<g transform="translate(380.3,139) rotate(-90)"><text x="0" y="0" font-family="Liberation Sans" font-size="15" text-anchor="middle" fill="#1e1e1e" stroke="#1e1e1e" stroke-width="0.25">Value (&#937;)</text></g>
<rect x="419.20" y="213.04" width="18.30" height="44.66" fill="#000000" stroke="#111" stroke-width="0.9"/>
<rect x="437.50" y="247.60" width="18.30" height="10.10" fill="#ff0000" stroke="#111" stroke-width="0.9"/>
<rect x="455.80" y="246.02" width="18.30" height="11.68" fill="#0000ff" stroke="#111" stroke-width="0.9"/>
<rect x="474.10" y="240.18" width="18.30" height="17.52" fill="#00ff00" stroke="#111" stroke-width="0.9"/>
<rect x="510.30" y="133.20" width="18.30" height="124.50" fill="#000000" stroke="#111" stroke-width="0.9"/>
<rect x="528.60" y="135.09" width="18.30" height="122.61" fill="#ff0000" stroke="#111" stroke-width="0.9"/>
<rect x="546.90" y="97.53" width="18.30" height="160.17" fill="#0000ff" stroke="#111" stroke-width="0.9"/>
<rect x="565.20" y="92.48" width="18.30" height="165.22" fill="#00ff00" stroke="#111" stroke-width="0.9"/>
<rect x="601.30" y="79.23" width="18.30" height="178.47" fill="#000000" stroke="#111" stroke-width="0.9"/>
<rect x="619.60" y="134.46" width="18.30" height="123.24" fill="#ff0000" stroke="#111" stroke-width="0.9"/>
<rect x="637.90" y="122.78" width="18.30" height="134.92" fill="#0000ff" stroke="#111" stroke-width="0.9"/>
<rect x="656.20" y="41.04" width="18.30" height="216.66" fill="#00ff00" stroke="#111" stroke-width="0.9"/>
<g transform="translate(427.25,206.55) scale(0.840,1)"><text x="0" y="0" font-family="Liberation Sans" font-size="10.2" font-weight="normal" text-anchor="middle" fill="#2a2a2a" stroke="#2a2a2a" stroke-width="0.25" >28.3</text></g>
<g transform="translate(445.20,239.95) scale(0.840,1)"><text x="0" y="0" font-family="Liberation Sans" font-size="10.2" font-weight="normal" text-anchor="middle" fill="#2a2a2a" stroke="#2a2a2a" stroke-width="0.25" >6.4</text></g>
<g transform="translate(463.45,231.05) scale(0.840,1)"><text x="0" y="0" font-family="Liberation Sans" font-size="10.2" font-weight="normal" text-anchor="middle" fill="#2a2a2a" stroke="#2a2a2a" stroke-width="0.25" >7.4</text></g>
<g transform="translate(482.70,223.85) scale(0.840,1)"><text x="0" y="0" font-family="Liberation Sans" font-size="10.2" font-weight="normal" text-anchor="middle" fill="#2a2a2a" stroke="#2a2a2a" stroke-width="0.25" >11.1</text></g>
<g transform="translate(518.05,125.95) scale(0.840,1)"><text x="0" y="0" font-family="Liberation Sans" font-size="10.2" font-weight="normal" text-anchor="middle" fill="#2a2a2a" stroke="#2a2a2a" stroke-width="0.25" >78.9</text></g>
<g transform="translate(536.85,129.15) scale(0.840,1)"><text x="0" y="0" font-family="Liberation Sans" font-size="10.2" font-weight="normal" text-anchor="middle" fill="#2a2a2a" stroke="#2a2a2a" stroke-width="0.25" >77.7</text></g>
<g transform="translate(553.50,90.25) scale(0.840,1)"><text x="0" y="0" font-family="Liberation Sans" font-size="10.2" font-weight="normal" text-anchor="middle" fill="#2a2a2a" stroke="#2a2a2a" stroke-width="0.25" >101.5</text></g>
<g transform="translate(575.40,86.45) scale(0.840,1)"><text x="0" y="0" font-family="Liberation Sans" font-size="10.2" font-weight="normal" text-anchor="middle" fill="#2a2a2a" stroke="#2a2a2a" stroke-width="0.25" >104.7</text></g>
<g transform="translate(611.10,71.65) scale(0.840,1)"><text x="0" y="0" font-family="Liberation Sans" font-size="10.2" font-weight="normal" text-anchor="middle" fill="#2a2a2a" stroke="#2a2a2a" stroke-width="0.25" >113.1</text></g>
<g transform="translate(629.15,121.75) scale(0.840,1)"><text x="0" y="0" font-family="Liberation Sans" font-size="10.2" font-weight="normal" text-anchor="middle" fill="#2a2a2a" stroke="#2a2a2a" stroke-width="0.25" >78.1</text></g>
<g transform="translate(647.00,108.25) scale(0.840,1)"><text x="0" y="0" font-family="Liberation Sans" font-size="10.2" font-weight="normal" text-anchor="middle" fill="#2a2a2a" stroke="#2a2a2a" stroke-width="0.25" >85.5</text></g>
<g transform="translate(666.00,37.65) scale(0.840,1)"><text x="0" y="0" font-family="Liberation Sans" font-size="10.2" font-weight="normal" text-anchor="middle" fill="#2a2a2a" stroke="#2a2a2a" stroke-width="0.25" >137.3</text></g>
<rect x="409.9" y="20.6" width="273.70" height="237.10" stroke="#1c1c1c" stroke-width="1.3" fill="none"/>
<g transform="translate(454.60,279.80) scale(0.860,1)"><text x="0" y="0" font-family="Liberation Sans" font-size="14.2" font-weight="normal" text-anchor="middle" fill="#1e1e1e" stroke="#1e1e1e" stroke-width="0.25" >Rs</text></g>
<g transform="translate(548.30,279.20) scale(0.860,1)"><text x="0" y="0" font-family="Liberation Sans" font-size="14.2" font-weight="normal" text-anchor="middle" fill="#1e1e1e" stroke="#1e1e1e" stroke-width="0.25" >Rsei</text></g>
<g transform="translate(639.60,278.60) scale(0.860,1)"><text x="0" y="0" font-family="Liberation Sans" font-size="14.2" font-weight="normal" text-anchor="middle" fill="#1e1e1e" stroke="#1e1e1e" stroke-width="0.25" >Rct</text></g>
<rect x="423.6" y="28.50" width="21.9" height="12.40" fill="#000000" stroke="#111" stroke-width="0.9"/>
<g transform="translate(448.50,39.20) scale(0.880,1)"><text x="0" y="0" font-family="Liberation Sans" font-size="12.2" font-weight="normal" text-anchor="start" fill="#1e1e1e" stroke="#1e1e1e" stroke-width="0.25" >T-Nb<tspan font-size="7.5" dy="4.5">2</tspan><tspan dy="-4.5">O</tspan><tspan font-size="7.5" dy="5.5">5</tspan><tspan dy="-5.5">/rGO-1</tspan></text></g>
<rect x="423.6" y="52.70" width="21.9" height="12.60" fill="#ff0000" stroke="#111" stroke-width="0.9"/>
<g transform="translate(448.50,62.80) scale(0.880,1)"><text x="0" y="0" font-family="Liberation Sans" font-size="12.2" font-weight="normal" text-anchor="start" fill="#1e1e1e" stroke="#1e1e1e" stroke-width="0.25" >T-Nb<tspan font-size="7.5" dy="4.5">2</tspan><tspan dy="-4.5">O</tspan><tspan font-size="7.5" dy="5.5">5</tspan><tspan dy="-5.5">/rGO-2</tspan></text></g>
<rect x="423.6" y="80.40" width="21.9" height="12.20" fill="#0000ff" stroke="#111" stroke-width="0.9"/>
<g transform="translate(448.50,90.30) scale(0.880,1)"><text x="0" y="0" font-family="Liberation Sans" font-size="12.2" font-weight="normal" text-anchor="start" fill="#1e1e1e" stroke="#1e1e1e" stroke-width="0.25" >T-Nb<tspan font-size="7.5" dy="4.5">2</tspan><tspan dy="-4.5">O</tspan><tspan font-size="7.5" dy="5.5">5</tspan><tspan dy="-5.5">/rGO-3</tspan></text></g>
<rect x="423.6" y="99.60" width="21.9" height="12.20" fill="#00ff00" stroke="#111" stroke-width="0.9"/>
<g transform="translate(448.50,109.50) scale(0.880,1)"><text x="0" y="0" font-family="Liberation Sans" font-size="12.2" font-weight="normal" text-anchor="start" fill="#1e1e1e" stroke="#1e1e1e" stroke-width="0.25" >T-Nb<tspan font-size="7.5" dy="4.5">2</tspan><tspan dy="-4.5">O</tspan><tspan font-size="7.5" dy="5.5">5</tspan><tspan dy="-5.5">/rGO-4</tspan></text></g>
<g transform="translate(56.70,316.60) scale(1.000,1)"><text x="0" y="0" font-family="Liberation Serif" font-size="15.5" font-weight="bold" text-anchor="start" fill="#111" stroke="#111" stroke-width="0.25" >(c)</text></g>
<path d="M73.1,336.8H123.2L130.6,345.9L137.1,326.3L146,348.2L151.6,325.9L159,338.4H258M267.4,338.5H488.2M496.4,338.4H648.3M258,328.3V351.7M267.4,328.3V351.7M488.2,329V352.2M496.4,329V352.2M202.9,338.5V448.9H245.2L251,459L258.7,438.8L267,462.1L273.6,437.5L280.8,451.3H326.2V338.5M385.3,338.5V451.3H432.6L437.4,458.9L444.2,438.5L453.7,461.4L461.5,436.3L466.9,451.6H503.7M548.9,450.9H595.1V338.4" stroke="#000" stroke-width="2.2" fill="none" stroke-linejoin="miter" stroke-miterlimit="1.5"/>
<rect x="503.7" y="434.1" width="45.2" height="31.6" stroke="#000" stroke-width="2.2" fill="none"/>
<g transform="translate(135.60,317.30) scale(1.000,1)"><text x="0" y="0" font-family="Liberation Sans" font-size="15" font-weight="normal" text-anchor="start" fill="#1e1e1e" stroke="#1e1e1e" stroke-width="0.25" >R<tspan font-size="11" dy="3.4">s</tspan></text></g>
<g transform="translate(251.80,317.40) scale(1.000,1)"><text x="0" y="0" font-family="Liberation Sans" font-size="16" font-weight="normal" text-anchor="start" fill="#1e1e1e" stroke="#1e1e1e" stroke-width="0.25" >C<tspan font-size="11.2" dy="3.7">sei</tspan></text></g>
<g transform="translate(481.20,318.40) scale(1.000,1)"><text x="0" y="0" font-family="Liberation Sans" font-size="16" font-weight="normal" text-anchor="start" fill="#1e1e1e" stroke="#1e1e1e" stroke-width="0.25" >C<tspan font-size="11.2" dy="3.0">dl</tspan></text></g>
<g transform="translate(251.30,421.30) scale(1.000,1)"><text x="0" y="0" font-family="Liberation Sans" font-size="15" font-weight="normal" text-anchor="start" fill="#1e1e1e" stroke="#1e1e1e" stroke-width="0.25" >R<tspan font-size="11.2" dy="4.0">sei</tspan></text></g>
<g transform="translate(443.90,424.00) scale(1.000,1)"><text x="0" y="0" font-family="Liberation Sans" font-size="15" font-weight="normal" text-anchor="start" fill="#1e1e1e" stroke="#1e1e1e" stroke-width="0.25" >R<tspan font-size="11.2" dy="3.4">ct</tspan></text></g>
<g transform="translate(514.60,453.70) scale(1.000,1)"><text x="0" y="0" font-family="Liberation Sans" font-size="15" font-weight="normal" text-anchor="start" fill="#1e1e1e" stroke="#1e1e1e" stroke-width="0.25" >W<tspan font-size="11.2" dy="3.4">o</tspan></text></g>
</svg></body></html>
